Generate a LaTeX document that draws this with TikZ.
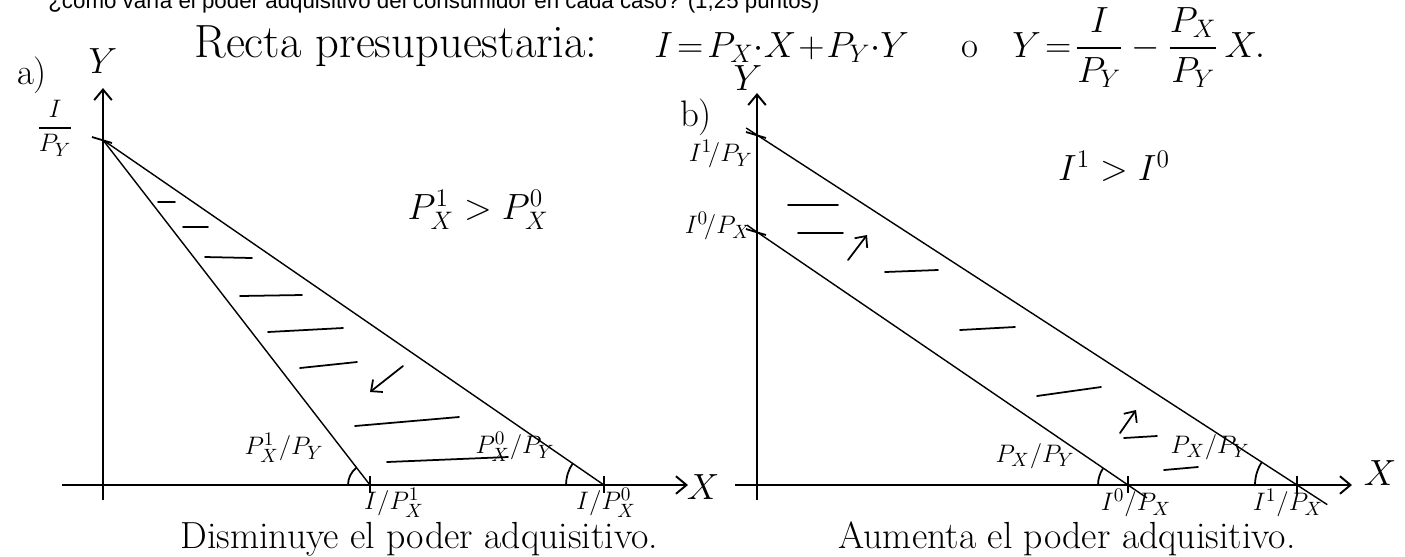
\documentclass[tikz,border=0pt]{standalone}
\usepackage{amsmath}
\usepackage{fontspec}
\newfontfamily\typedfont{Liberation Sans}
\usetikzlibrary{arrows.meta, calc}

\tikzset{
  axis/.style={line width=1.1pt, -{Straight Barb[length=6pt,width=10pt,line width=1.1pt]}},
  budget/.style={line width=0.8pt},
  hatch/.style={line width=1pt, line cap=round},
  movearrow/.style={line width=1pt, line cap=round, -{Straight Barb[length=5pt,width=9pt,line width=1pt]}},
  marker/.style={line width=1pt},
  lbl/.style={inner sep=0pt, font=\fontsize{15}{17}\selectfont},
  biglbl/.style={inner sep=0pt, font=\fontsize{21}{24}\selectfont},
  hand/.style={inner sep=0pt, font=\fontsize{21}{24}\selectfont},
  note/.style={inner sep=0pt, font=\fontsize{21.5}{25}\selectfont},
}

\begin{document}
\begin{tikzpicture}[x=0.02cm, y=-0.02cm]
\useasboundingbox (0,0) rectangle (1405,556);
\clip (0,0) rectangle (1405,556);

% typed line of the question, cut at the top
\node[anchor=base west, inner sep=0pt, font=\fontsize{12.7}{15}\selectfont\typedfont] (enunciado) at (48,8)
  {¿cómo varía el poder adquisitivo del consumidor en cada caso? (1,25 puntos)};

% budget line
\node[anchor=base west, inner sep=0pt, font=\fontsize{26.5}{30}\selectfont] (recta) at (194,57) {Recta presupuestaria:};
\node[anchor=base west, hand] (renta) at (654,57) {$I\!=\!P_X{\cdot}X\!+\!P_Y{\cdot}Y$};
\node[anchor=base, hand] (o) at (970,57) {o};
\node[anchor=base west, hand] (despeje) at (1012,57) {$Y\!=\!\dfrac{I}{P_Y}-\dfrac{P_X}{P_Y}\,X.$};

% ---- a) price of X rises
\coordinate (Ya0) at (103,500);
\coordinate (Ya) at (103,88);
\coordinate (Xa-) at (62,485);
\coordinate (Xa) at (688,485);
\coordinate (Ia) at (103,140);
\coordinate (Xa1) at (370,485);
\coordinate (Xa0) at (604,485);
\draw[axis] (Ya0) -- (Ya);
\draw[axis] (Xa-) -- (Xa);
\draw[budget] (Ia) -- (Xa1);
\draw[budget] (Ia) -- (Xa0);
\draw[marker] ($(Ia)+(-11,-3)$) -- ($(Ia)+(9,3)$);
\foreach \t in {Xa1,Xa0} \draw[marker] ($(\t)+(0,-9)$) -- ($(\t)+(0,8)$);
\draw[marker] ($(Xa1)+(-22,0)$) arc[start angle=180, end angle=232, radius=22];
\draw[marker] ($(Xa0)+(-38,0)$) arc[start angle=180, end angle=215, radius=38];

\node[biglbl] (ya) at (103,61) {$Y$};
\node[hand] (a) at (32,75) {a)};
\node[lbl] (iPy) at (55,128) {$\dfrac{I}{P_Y}$};
\node[biglbl] (xa) at (703,487) {$X$};
\node[biglbl] (cmpa) at (478,210) {$P_X^1 > P_X^0$};
\node[lbl] (pa1) at (284,448) {$P_X^1/P_Y$};
\node[lbl] (pa0) at (515,447) {$P_X^0/P_Y$};
\node[lbl] (ia1) at (394,503) {$I/P_X^1$};
\node[lbl] (ia0) at (606,503) {$I/P_X^0$};

\foreach \xa/\ya/\xb/\yb in {158/202/175/202, 183/227/208/227, 205/257/252/258,
    240/296/302/295, 268/332/343/328, 300/368/357/362, 355/426/459/417, 387/462/508/457}
  \draw[hatch] (\xa,\ya) -- (\xb,\yb);
\draw[movearrow] (403,366) -- (370,392);

\node[anchor=base west, note] (dism) at (180,548) {Disminuye el poder adquisitivo.};

% ---- b) income rises
\coordinate (Yb0) at (757,500);
\coordinate (Yb) at (757,93);
\coordinate (Xb-) at (735,485);
\coordinate (Xb) at (1352,485);
\coordinate (Ib1) at (757,135);
\coordinate (Ib0) at (757,232);
\coordinate (Xb1) at (1297,485);
\coordinate (Xb0) at (1128,485);
\draw[axis] (Yb0) -- (Yb);
\draw[axis] (Xb-) -- (Xb);
\draw[budget] ($(Ib1)!-0.02!(Xb1)$) -- ($(Ib1)!1.056!(Xb1)$);
\draw[budget] ($(Ib0)!-0.027!(Xb0)$) -- ($(Ib0)!1.051!(Xb0)$);
\foreach \t in {Ib1,Ib0} \draw[marker] ($(\t)+(-11,-3)$) -- ($(\t)+(9,3)$);
\foreach \t in {Xb1,Xb0} \draw[marker] ($(\t)+(0,-9)$) -- ($(\t)+(0,8)$);
\draw[marker] ($(Xb0)+(-30,0)$) arc[start angle=180, end angle=214, radius=30];
\draw[marker] ($(Xb1)+(-42,0)$) arc[start angle=180, end angle=213, radius=42];

\node[biglbl] (yb) at (748,78) {$Y$};
\node[hand] (b) at (696,117) {b)};
\node[lbl, anchor=east] (ib1) at (753,154) {$I^1\!/P_Y$};
\node[lbl, anchor=east] (ib0) at (751,226) {$I^0\!/P_X$};
\node[biglbl] (xb) at (1380,473) {$X$};
\node[biglbl] (cmpb) at (1114,166) {$I^1 > I^0$};
\node[lbl] (pb0) at (1035,456) {$P_X/P_Y$};
\node[lbl] (pb1) at (1210,447) {$P_X/P_Y$};
\node[lbl] (ib0x) at (1136,503) {$I^0/P_X$};
\node[lbl] (ib1x) at (1288,503) {$I^1/P_X$};

\foreach \xa/\ya/\xb/\yb in {788/205/838/205, 798/233/843/233, 885/272/938/270,
    960/330/1015/327, 1037/396/1101/387, 1124/438/1157/436, 1164/470/1198/467}
  \draw[hatch] (\xa,\ya) -- (\xb,\yb);
\draw[movearrow] (848,260) -- (867,235);
\draw[movearrow] (1120,433) -- (1136,410);

\node[anchor=base west, note] (aum) at (838,548) {Aumenta el poder adquisitivo.};
\end{tikzpicture}
\end{document}
